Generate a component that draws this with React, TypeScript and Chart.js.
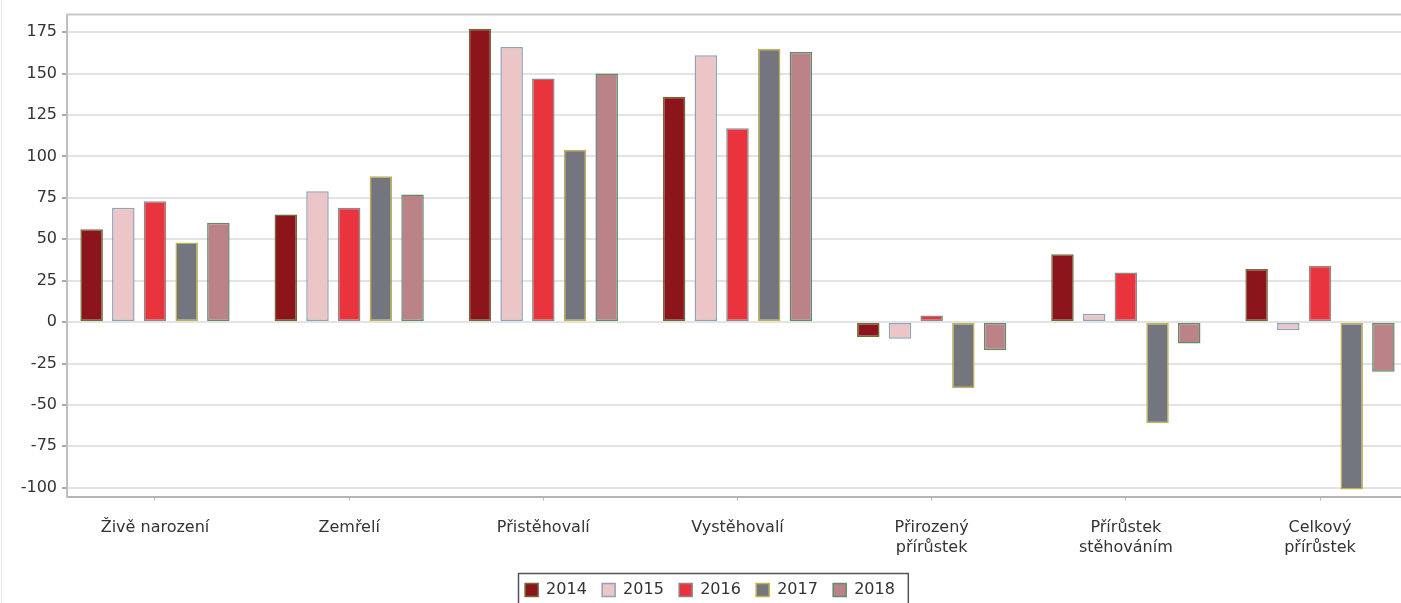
import React, { useEffect, useRef } from "react";
import { Chart, registerables } from "chart.js";

Chart.register(...registerables);

const categories: string[][] = [
  ["Živě narození"],
  ["Zemřelí"],
  ["Přistěhovalí"],
  ["Vystěhovalí"],
  ["Přirozený", "přírůstek"],
  ["Přírůstek", "stěhováním"],
  ["Celkový", "přírůstek"],
];

const years = ["2014", "2015", "2016", "2017", "2018"];

const values2014 = [56, 65, 177, 136, -9, 41, 32];
const values2015 = [69, 79, 166, 161, -10, 5, -5];
const values2016 = [73, 69, 147, 117, 4, 30, 34];
const values2017 = [48, 88, 104, 165, -40, -61, -101];
const values2018 = [60, 77, 150, 163, -17, -13, -30];

const yTickValues = [-100, -75, -50, -25, 0, 25, 50, 75, 100, 125, 150, 175];

const seriesValues = [values2014, values2015, values2016, values2017, values2018];
const fillColors = ["#8c141b", "#ecc5c6", "#e9343d", "#73767f", "#bb8388"];
const borderColors = ["#6f6a3c", "#8ea2ba", "#8a8a8a", "#c2b24e", "#5f8b68"];

const FONT = "'DejaVu Sans', 'Liberation Sans', sans-serif";

const framePlugin = {
  id: "frame",
  afterDraw(chart: any) {
    const { ctx, chartArea, legend } = chart;
    ctx.save();
    ctx.strokeStyle = "#c8c8c8";
    ctx.lineWidth = 2;
    ctx.beginPath();
    ctx.moveTo(chartArea.left - 1, chartArea.top);
    ctx.lineTo(chartArea.right, chartArea.top);
    ctx.stroke();
    const boxes = legend && legend.legendHitBoxes;
    if (boxes && boxes.length) {
      const first = boxes[0];
      const last = boxes[boxes.length - 1];
      const cy = first.top + first.height / 2;
      const l = first.left - 7;
      const r = last.left + last.width + 13;
      ctx.strokeStyle = "#555555";
      ctx.lineWidth = 1.5;
      ctx.strokeRect(Math.round(l) + 0.5, Math.round(cy - 17) + 0.5, r - l, 40);
    }
    ctx.restore();
  },
};

export default function App() {
  const canvasRef = useRef<HTMLCanvasElement | null>(null);

  useEffect(() => {
    if (!canvasRef.current) return;
    const chart = new Chart(canvasRef.current, {
      type: "bar",
      data: {
        datasets: years.map((year, s) => ({
          label: year,
          data: seriesValues[s].map((v, i) => ({ x: i, y: v })),
          backgroundColor: fillColors[s],
          borderColor: borderColors[s],
          borderWidth: 1.5,
          borderSkipped: false,
          categoryPercentage: 0.816,
          barPercentage: 0.71,
        })),
      },
      options: {
        animation: false,
        responsive: false,
        devicePixelRatio: 1,
        layout: { padding: { top: 13.5, left: 0, right: 0, bottom: 0 } },
        plugins: {
          tooltip: { enabled: false },
          legend: {
            position: "bottom",
            labels: {
              boxWidth: 13,
              boxHeight: 13,
              padding: 15.3,
              color: "#333333",
              font: { family: FONT, size: 16 },
            },
          },
        },
        scales: {
          x: {
            type: "linear",
            min: -0.4532,
            max: 6.515,
            offset: false,
            grid: {
              offset: false,
              drawOnChartArea: false,
              drawTicks: true,
              tickLength: 4,
              tickColor: "#bbbbbb",
              lineWidth: 1,
            },
            border: { color: "#b4b4b4", width: 2 },
            afterBuildTicks: (scale: any) => {
              scale.ticks = categories.map((_, i) => ({ value: i }));
            },
            afterFit: (scale: any) => {
              scale.height = 70;
            },
            ticks: {
              autoSkip: false,
              maxRotation: 0,
              minRotation: 0,
              padding: 18,
              color: "#333333",
              font: { family: FONT, size: 16 },
              callback: (value: any) => categories[Math.round(Number(value))] || "",
            },
          },
          y: {
            min: -105.4,
            max: 185.6,
            grid: {
              color: "#e3e3e3",
              lineWidth: 2,
              tickLength: 5,
              tickColor: "#aaaaaa",
            },
            border: { color: "#c0c0c0", width: 2 },
            afterBuildTicks: (scale: any) => {
              scale.ticks = yTickValues.map((v) => ({ value: v }));
            },
            afterFit: (scale: any) => {
              scale.width = 67;
            },
            ticks: {
              padding: 5,
              color: "#333333",
              font: { family: FONT, size: 16 },
              callback: (value: any) => String(value),
            },
          },
        },
      } as any,
      plugins: [framePlugin],
    });
    return () => chart.destroy();
  }, []);

  return (
    <div
      style={{
        position: "fixed",
        left: 0,
        top: 0,
        width: 1401,
        height: 603,
        overflow: "hidden",
        background: "#ffffff",
      }}
    >
      <canvas
        ref={canvasRef}
        width={1420}
        height={608}
        style={{ width: 1420, height: 608, display: "block" }}
      />
      <div
        style={{
          position: "absolute",
          left: 1,
          top: 0,
          width: 1,
          height: 603,
          background: "#e6e6e6",
        }}
      />
    </div>
  );
}
